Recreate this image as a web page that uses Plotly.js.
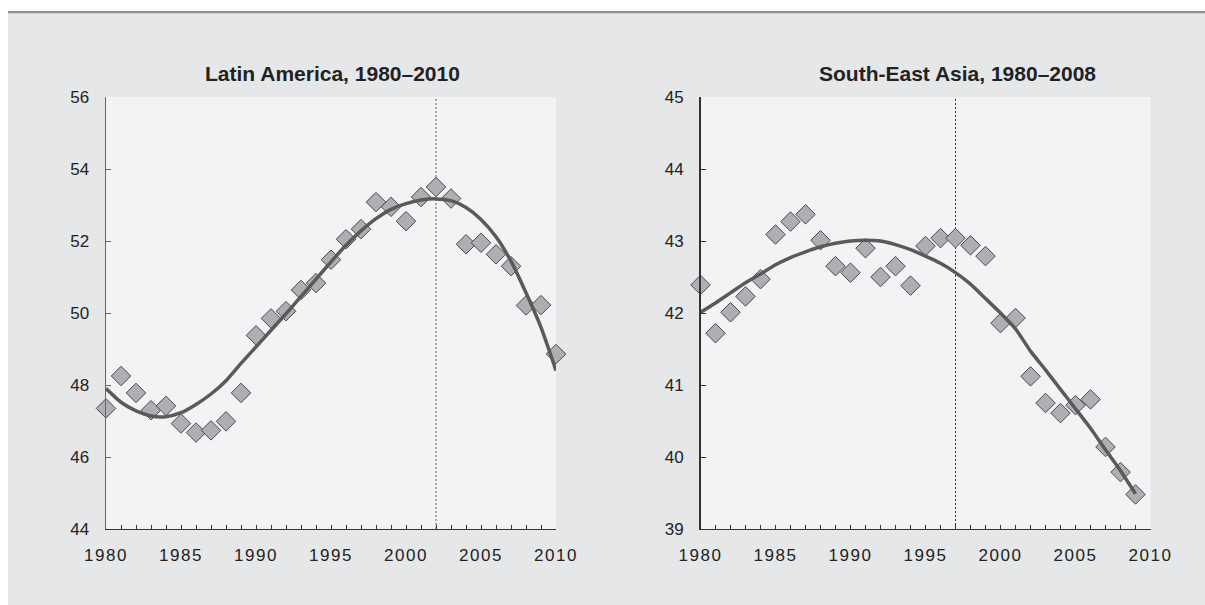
<!DOCTYPE html>
<html>
<head>
<meta charset="utf-8">
<script src="https://cdn.plot.ly/plotly-3.0.1.min.js"></script>
<style>
  html, body { margin: 0; padding: 0; background: #ffffff; }
  #chart { width: 1205px; height: 605px; }
  .xtick text, .x2tick text { letter-spacing: 1.5px; }
</style>
</head>
<body>
<div id="chart"></div>
<script>
// ---------- Data ----------
const titleLA = "Latin America, 1980–2010";
const titleSEA = "South-East Asia, 1980–2008";

const yearsLA = [1980,1981,1982,1983,1984,1985,1986,1987,1988,1989,1990,1991,1992,1993,1994,1995,
                 1996,1997,1998,1999,2000,2001,2002,2003,2004,2005,2006,2007,2008,2009,2010];
const obsLA = [47.35,48.25,47.78,47.30,47.42,46.93,46.68,46.74,46.99,47.78,49.38,49.85,50.05,50.64,50.83,51.48,
               52.05,52.33,53.08,52.95,52.55,53.22,53.50,53.18,51.91,51.95,51.63,51.30,50.21,50.22,48.86];
const fitLA = [47.90,47.52,47.28,47.14,47.12,47.23,47.46,47.75,48.12,48.60,49.06,49.52,49.98,50.46,50.94,51.42,
               51.88,52.28,52.62,52.88,53.04,53.14,53.17,53.12,52.93,52.60,52.12,51.44,50.56,49.60,48.40];
const breakLA = 2002;

const yearsSEA = [1980,1981,1982,1983,1984,1985,1986,1987,1988,1989,1990,1991,1992,1993,1994,1995,
                  1996,1997,1998,1999,2000,2001,2002,2003,2004,2005,2006,2007,2008,2009];
const obsSEA = [42.39,41.72,42.01,42.23,42.47,43.09,43.27,43.37,43.01,42.65,42.56,42.90,42.50,42.65,42.38,42.93,
                43.04,43.04,42.94,42.79,41.86,41.93,41.12,40.75,40.61,40.72,40.80,40.14,39.79,39.48];
const fitSEA = [42.01,42.14,42.28,42.42,42.54,42.67,42.77,42.85,42.92,42.97,43.00,43.01,43.00,42.95,42.88,42.79,
                42.69,42.56,42.40,42.20,42.00,41.78,41.47,41.21,40.94,40.67,40.40,40.10,39.81,39.49];
const breakSEA = 1997;

// ---------- Styles ----------
const FONT = '"Liberation Sans", Arial, sans-serif';
const W = 1205, H = 605;
const px = v => v / W;
const py = v => 1 - v / H;

const markerStyle = {symbol: 'diamond', size: 15, color: '#aeafb3', line: {color: '#4a4a4a', width: 1}};
const lineStyle = {color: '#5a5a5a', width: 3.5, shape: 'spline', smoothing: 0.6};

const traces = [
  {x: yearsLA, y: obsLA, type: 'scatter', mode: 'markers', marker: markerStyle, xaxis: 'x', yaxis: 'y', cliponaxis: false, hoverinfo: 'x+y'},
  {x: yearsLA, y: fitLA, type: 'scatter', mode: 'lines', line: lineStyle, xaxis: 'x', yaxis: 'y', cliponaxis: false, hoverinfo: 'skip'},
  {x: yearsSEA, y: obsSEA, type: 'scatter', mode: 'markers', marker: markerStyle, xaxis: 'x2', yaxis: 'y2', cliponaxis: false, hoverinfo: 'x+y'},
  {x: yearsSEA, y: fitSEA, type: 'scatter', mode: 'lines', line: lineStyle, xaxis: 'x2', yaxis: 'y2', cliponaxis: false, hoverinfo: 'skip'}
];

const tickFont = {family: FONT, size: 17, color: '#222222'};

function xAxis(domain, anchor) {
  return {
    domain: domain, anchor: anchor, range: [1980, 2010], dtick: 5, tick0: 1980,
    ticks: 'inside', ticklen: 4, tickwidth: 1, tickcolor: '#333333',
    minor: {dtick: 1, ticks: 'inside', ticklen: 4, tickwidth: 1, tickcolor: '#333333'},
    showline: true, linecolor: '#333333', linewidth: 1.3, showgrid: false, zeroline: false,
    tickfont: tickFont, ticklabelstandoff: 10, fixedrange: true
  };
}
function yAxis(domain, anchor, range, dtick, lc) {
  return {
    domain: domain, anchor: anchor, range: range, dtick: dtick,
    ticks: 'inside', ticklen: 5, tickwidth: 1, tickcolor: lc,
    showline: true, linecolor: lc, linewidth: 1.5, showgrid: false, zeroline: false,
    tickfont: tickFont, ticklabelstandoff: 12, fixedrange: true
  };
}

const yDom = [py(529), py(97)];
const layout = {
  width: W, height: H,
  margin: {l: 0, r: 0, t: 0, b: 0, pad: 0},
  paper_bgcolor: '#e6e7e9',
  plot_bgcolor: '#f2f3f5',
  showlegend: false,
  font: {family: FONT, color: '#222222'},
  xaxis: xAxis([px(106), px(556)], 'y'),
  yaxis: yAxis(yDom, 'x', [44, 56], 2, '#666666'),
  xaxis2: xAxis([px(700.5), px(1150.5)], 'y2'),
  yaxis2: yAxis(yDom, 'x2', [39, 45], 1, '#333333'),
  shapes: [
    {type: 'rect', xref: 'paper', yref: 'paper', x0: 0, x1: 1, y0: py(11), y1: 1, fillcolor: '#ffffff', line: {width: 0}, layer: 'below'},
    {type: 'rect', xref: 'paper', yref: 'paper', x0: 0, x1: px(8), y0: 0, y1: 1, fillcolor: '#ffffff', line: {width: 0}, layer: 'below'},
    {type: 'line', xref: 'paper', yref: 'paper', x0: px(8), x1: 1, y0: py(12.2), y1: py(12.2), line: {color: '#8e8e8e', width: 2.2}, layer: 'above'},
    {type: 'line', xref: 'x', yref: 'y domain', x0: breakLA, x1: breakLA, y0: 0, y1: 1, line: {color: '#777777', width: 1.2, dash: '2px,2px'}, layer: 'below'},
    {type: 'line', xref: 'x2', yref: 'y2 domain', x0: breakSEA, x1: breakSEA, y0: 0, y1: 1, line: {color: '#333333', width: 1, dash: '2px,2px'}, layer: 'below'}
  ],
  annotations: [
    {text: '<b>' + titleLA + '</b>', xref: 'paper', yref: 'paper', x: px(332.5), y: py(73), xanchor: 'center', yanchor: 'middle',
     showarrow: false, font: {family: FONT, size: 21, color: '#222222'}},
    {text: '<b>' + titleSEA + '</b>', xref: 'paper', yref: 'paper', x: px(957), y: py(73), xanchor: 'center', yanchor: 'middle',
     showarrow: false, font: {family: FONT, size: 21, color: '#222222'}}
  ]
};

Plotly.newPlot('chart', traces, layout, {displayModeBar: false, staticPlot: true});
</script>
</body>
</html>
